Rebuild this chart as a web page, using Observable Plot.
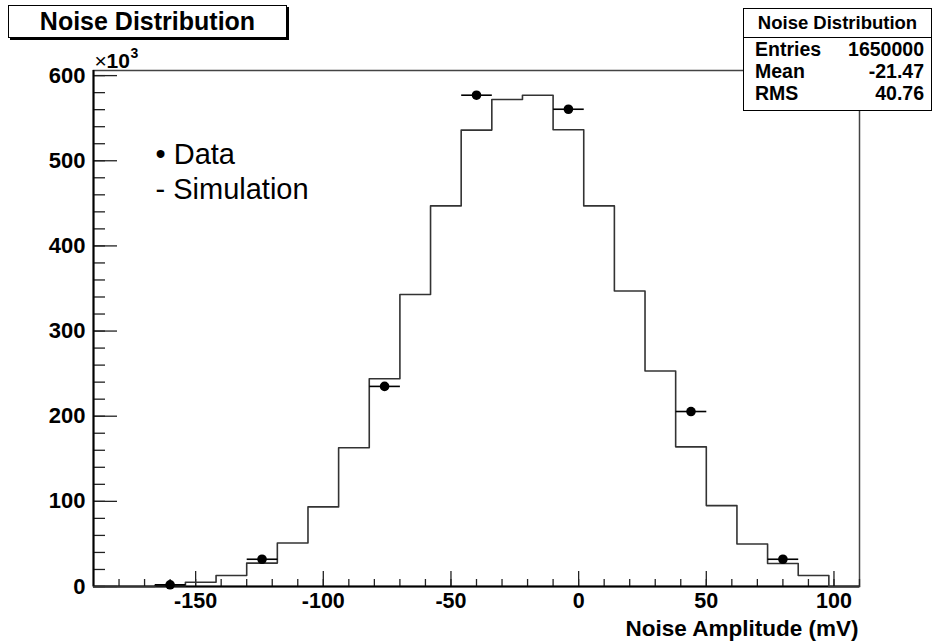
<!DOCTYPE html>
<html>
<head>
<meta charset="utf-8">
<script src="https://cdn.jsdelivr.net/npm/d3@7"></script>
<script src="https://cdn.jsdelivr.net/npm/@observablehq/plot@0.6"></script>
<style>
  html, body { margin: 0; padding: 0; background: #fff; }
  #wrap { position: relative; width: 933px; height: 642px; font-family: "Liberation Sans", Arial, Helvetica, sans-serif; }
  #chart { position: absolute; left: 0; top: 0; }
  .box { position: absolute; background: #fff; border: 1px solid #000; box-sizing: border-box; }
  #title { left: 8px; top: 5px; width: 279px; height: 33px; box-shadow: 2px 2px 0 #000;
           font-weight: bold; font-size: 25px; line-height: 31px; text-align: center; }
  #stats { left: 743px; top: 8px; width: 189px; height: 103px; font-weight: bold; font-size: 19.5px; }
  #stats .hd { position: absolute; left: 0; right: 0; top: 4px; text-align: center; font-size: 18.5px; line-height: 20px; }
  #stats .sep { position: absolute; left: 0; right: 0; top: 28px; border-top: 1px solid #000; }
  #stats .row { position: absolute; left: 11px; right: 7px; height: 22px; line-height: 22px; }
  #stats .row span.v { position: absolute; right: 0; }
</style>
</head>
<body>
<div id="wrap">
  <div id="chart"></div>
  <div id="title" class="box">Noise Distribution</div>
  <div id="stats" class="box"></div>
</div>
<script>
// ---- data ----
const binEdges = [-190,-178,-166,-154,-142,-130,-118,-106,-94,-82,-70,-58,-46,-34,-22,-10,2,14,26,38,50,62,74,86,98,110];
const simCounts = [0,0,1,5,13,27.5,51,93.5,163,244,343,447,536,572,577,536.5,447,347,253,164,95,50,27,13,0]; // x10^3
const dataX = [-160,-124,-76,-40,-4,44,80];
const dataY = [2,32,235,577,560.5,205.5,32]; // x10^3
const binWidth = 12;
const yMajor = [0,100,200,300,400,500,600];
const yMinor = d3.range(0, 601, 20);
const xMajor = [-150,-100,-50,0,50,100];
const xMinor = d3.range(-180, 111, 10);
const statsTitle = "Noise Distribution";
const statsRows = [["Entries","1650000"],["Mean","-21.47"],["RMS","40.76"]];
const legendData = "\u2022 Data";
const legendSim = "- Simulation";
const xTitle = "Noise Amplitude (mV)";

// ---- derived tables ----
const hist = binEdges.map((e, i) => ({x: e, y: i < simCounts.length ? simCounts[i] : 0}));
const pts = dataX.map((x, i) => ({x, y: dataY[i]}));

const font = "Liberation Sans, Arial, Helvetica, sans-serif";
const chart = Plot.plot({
  width: 933,
  height: 642,
  marginLeft: 93,
  marginRight: 74,
  marginTop: 70,
  marginBottom: 56,
  x: {domain: [-190, 110], label: null},
  y: {domain: [0, 606], label: null},
  style: {fontFamily: font, background: "white", color: "#000"},
  marks: [
    Plot.frame({stroke: "#444", strokeWidth: 1.5}),
    Plot.axisY(yMinor, {tickSize: -12, tickFormat: () => "", label: null, strokeWidth: 1.3, stroke: "#222"}),
    Plot.axisY(yMajor, {tickSize: -24, tickFormat: () => "", label: null, strokeWidth: 1.3, stroke: "#222"}),
    Plot.axisY(yMajor, {tickSize: 0, tickPadding: 8, fontSize: 22, fontWeight: "bold", label: null, fill: "#000"}),
    Plot.axisX(xMinor, {tickSize: -7, tickFormat: () => "", label: null, strokeWidth: 1.3, stroke: "#222"}),
    Plot.axisX(xMajor, {tickSize: -15, tickFormat: () => "", label: null, strokeWidth: 1.3, stroke: "#222"}),
    Plot.axisX(xMajor, {tickSize: 0, tickPadding: 6, fontSize: 21.5, fontWeight: "bold", label: null, fill: "#000", tickFormat: d => String(d)}),
    Plot.ruleY([0], {stroke: "#000", strokeWidth: 2}),
    Plot.ruleX([-190], {stroke: "#000", strokeWidth: 2}),
    Plot.line(hist, {x: "x", y: "y", curve: "step-after", stroke: "#333", strokeWidth: 1.6}),
    Plot.link(pts, {x1: d => d.x - binWidth / 2, x2: d => d.x + binWidth / 2, y1: "y", y2: "y", stroke: "#000", strokeWidth: 1.6}),
    Plot.dot(pts, {x: "x", y: "y", r: 4.8, fill: "#000", stroke: "none"}),
    Plot.text([xTitle], {frameAnchor: "bottom-right", textAnchor: "end", lineAnchor: "bottom", dx: -1, dy: 49, fontSize: 22.5, fontWeight: "bold", fill: "#000"}),
    Plot.text(["\u00d7"], {frameAnchor: "top-left", textAnchor: "start", lineAnchor: "bottom", dx: 1, dy: -3, fontSize: 21, fill: "#000"}),
    Plot.text(["10"], {frameAnchor: "top-left", textAnchor: "start", lineAnchor: "bottom", dx: 13, dy: -3, fontSize: 21, fontWeight: "bold", fill: "#000"}),
    Plot.text(["3"], {frameAnchor: "top-left", textAnchor: "start", lineAnchor: "bottom", dx: 37, dy: -13, fontSize: 14, fontWeight: "bold", fill: "#000"}),
    Plot.text([legendData], {frameAnchor: "top-left", textAnchor: "start", lineAnchor: "bottom", dx: 62, dy: 93, fontSize: 29, fill: "#000"}),
    Plot.text([legendSim], {frameAnchor: "top-left", textAnchor: "start", lineAnchor: "bottom", dx: 62, dy: 128, fontSize: 29, fill: "#000"})
  ]
});
document.getElementById("chart").appendChild(chart);

// stats box
const stats = d3.select("#stats");
stats.append("div").attr("class", "hd").text(statsTitle);
stats.append("div").attr("class", "sep");
statsRows.forEach((r, i) => {
  const row = stats.append("div").attr("class", "row").style("top", (29 + i * 22) + "px");
  row.append("span").attr("class", "k").text(r[0]);
  row.append("span").attr("class", "v").text(r[1]);
});
</script>
</body>
</html>
